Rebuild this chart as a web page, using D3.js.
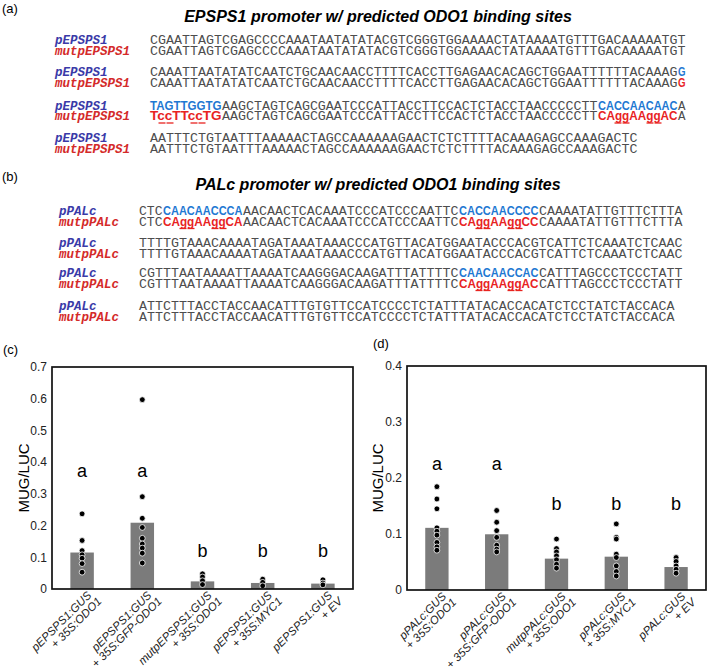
<!DOCTYPE html>
<html>
<head>
<meta charset="utf-8">
<script src="https://cdn.jsdelivr.net/npm/d3@7"></script>
<style>
body { margin: 0; background: #fff; }
svg { display: block; font-family: "Liberation Sans", Arial, sans-serif; }
</style>
</head>
<body>
<svg id="fig" width="709" height="670"></svg>
<script>
// ---- sequence data: [..] marks a predicted ODO1 site, lower case = mutated base
var namesA = ["pEPSPS1", "mutpEPSPS1"];
var seqA_wt = [
  "CGAATTAGTCGAGCCCCAAATAATATATACGTCGGGTGGAAAACTATAAAATGTTTGACAAAAATGT",
  "CAAATTAATATATCAATCTGCAACAACCTTTTCACCTTGAGAACACAGCTGGAATTTTTTACAAAG[G]",
  "[TAGTTGGTG]AAGCTAGTCAGCGAATCCCATTACCTTCCACTCTACCTAACCCCCTT[CACCAACAAC]A",
  "AATTTCTGTAATTTAAAAACTAGCCAAAAAAGAACTCTCTTTTACAAAGAGCCAAAGACTC"
];
var seqA_mut = [
  "CGAATTAGTCGAGCCCCAAATAATATATACGTCGGGTGGAAAACTATAAAATGTTTGACAAAAATGT",
  "CAAATTAATATATCAATCTGCAACAACCTTTTCACCTTGAGAACACAGCTGGAATTTTTTACAAAG[G]",
  "[TccTTccTG]AAGCTAGTCAGCGAATCCCATTACCTTCCACTCTACCTAACCCCCTT[CAggAAggAC]A",
  "AATTTCTGTAATTTAAAAACTAGCCAAAAAAGAACTCTCTTTTACAAAGAGCCAAAGACTC"
];
var namesB = ["pPALc", "mutpPALc"];
var seqB_wt = [
  "CTC[CAACAACCCA]AACAACTCACAAATCCCATCCCAATTC[CACCAACCCC]CAAAATATTGTTTCTTTA",
  "TTTTGTAAACAAAATAGATAAATAAACCCATGTTACATGGAATACCCACGTCATTCTCAAATCTCAAC",
  "CGTTTAATAAAATTAAAATCAAGGGACAAGATTTATTTTC[CAACAACCAC]CATTTAGCCCTCCCTATT",
  "ATTCTTTACCTACCAACATTTGTGTTCCATCCCCTCTATTTATACACCACATCTCCTATCTACCACA"
];
var seqB_mut = [
  "CTC[CAggAAggCA]AACAACTCACAAATCCCATCCCAATTC[CAggAAggCC]CAAAATATTGTTTCTTTA",
  "TTTTGTAAACAAAATAGATAAATAAACCCATGTTACATGGAATACCCACGTCATTCTCAAATCTCAAC",
  "CGTTTAATAAAATTAAAATCAAGGGACAAGATTTATTTTC[CAggAAggAC]CATTTAGCCCTCCCTATT",
  "ATTCTTTACCTACCAACATTTGTGTTCCATCCCCTCTATTTATACACCACATCTCCTATCTACCACA"
];

// ---- chart (c)
var labelsC1 = ["pEPSPS1:GUS", "pEPSPS1:GUS", "mutpEPSPS1:GUS", "pEPSPS1:GUS", "pEPSPS1:GUS"];
var labelsC2 = ["+ 35S:ODO1", "+ 35S:GFP-ODO1", "+ 35S:ODO1", "+ 35S:MYC1", "+ EV"];
var meansC = [0.115, 0.209, 0.024, 0.019, 0.017];
var pointsC = [
  [0.237, 0.153, 0.121, 0.108, 0.097, 0.080, 0.053],
  [0.597, 0.291, 0.223, 0.194, 0.160, 0.142, 0.129, 0.113, 0.082],
  [0.048, 0.038, 0.026, 0.014],
  [0.031, 0.021, 0.010],
  [0.029, 0.019, 0.013]
];
var lettersC = ["a", "a", "b", "b", "b"];
var letterPosC = [0.354, 0.354, 0.10, 0.10, 0.10];
var ticksC = [0, 0.1, 0.2, 0.3, 0.4, 0.5, 0.6, 0.7];

// ---- chart (d)
var labelsD1 = ["pPALc:GUS", "pPALc:GUS", "mutpPALc:GUS", "pPALc:GUS", "pPALc:GUS"];
var labelsD2 = ["+ 35S:ODO1", "+ 35S:GFP-ODO1", "+ 35S:ODO1", "+ 35S:MYC1", "+ EV"];
var meansD = [0.111, 0.0995, 0.056, 0.0595, 0.041];
var pointsD = [
  [0.1845, 0.1625, 0.145, 0.111, 0.105, 0.098, 0.085, 0.077, 0.071],
  [0.142, 0.121, 0.106, 0.094, 0.080, 0.073, 0.068],
  [0.091, 0.074, 0.068, 0.061, 0.054, 0.046, 0.039],
  [0.118, 0.094, 0.091, 0.064, 0.058, 0.043, 0.033, 0.025],
  [0.058, 0.051, 0.043, 0.037, 0.030]
];
var lettersD = ["a", "a", "b", "b", "b"];
var letterPosD = [0.214, 0.214, 0.143, 0.143, 0.143];
var ticksD = [0, 0.1, 0.2, 0.3, 0.4];

var svg = d3.select("#fig");
var CW = 8; // one base = 8px

function parseSeq(s) {
  var out = [], pos = 0, hl = false, buf = "";
  for (var i = 0; i < s.length; i++) {
    var c = s[i];
    if (c == "[" || c == "]") {
      if (buf.length) { out.push({ t: buf, start: pos, hl: hl }); pos += buf.length; buf = ""; }
      hl = (c == "[");
    } else buf += c;
  }
  if (buf.length) out.push({ t: buf, start: pos, hl: hl });
  return out;
}

function drawSeqRow(g, str, x0, y, hlColor) {
  parseSeq(str).forEach(function(sg) {
    var t = g.append("text")
      .attr("x", x0 + sg.start * CW)
      .attr("y", y)
      .attr("textLength", sg.t.length * CW - 0.5)
      .attr("lengthAdjust", "spacingAndGlyphs")
      .text(sg.t);
    if (sg.hl) {
      t.attr("fill", hlColor).style("font-family", "'Liberation Sans', Arial, sans-serif")
        .style("font-weight", "bold").style("font-size", "12px");
      // underline mutated (lower case) bases
      for (var k = 0; k < sg.t.length; k++) {
        if (sg.t[k] != sg.t[k].toUpperCase()) {
          g.append("line")
            .attr("x1", x0 + (sg.start + k) * CW + 0.5).attr("x2", x0 + (sg.start + k + 1) * CW - 0.5)
            .attr("y1", y + 3).attr("y2", y + 3)
            .attr("stroke", hlColor).attr("stroke-width", 1.3);
        }
      }
    } else {
      t.attr("fill", "#4d4d4d").style("font-family", "'Liberation Mono', 'Courier New', monospace")
        .style("font-size", "12.5px");
    }
  });
}

function drawSeqPanel(tag, title, tagY, titleY, names, wt, mut, rowY, labX, seqX) {
  svg.append("text").attr("x", 2).attr("y", tagY).style("font-size", "13px").text(tag);
  svg.append("text").attr("x", 378).attr("y", titleY).attr("text-anchor", "middle")
    .style("font-size", "16px").style("font-weight", "bold").style("font-style", "italic")
    .text(title);
  var g = svg.append("g");
  rowY.forEach(function(y, i) {
    [0, 1].forEach(function(j) {
      g.append("text").attr("x", labX).attr("y", y + j * 10.5)
        .attr("fill", j == 0 ? "#3a3aa8" : "#d42a2a")
        .style("font-family", "'Liberation Mono', 'Courier New', monospace")
        .style("font-weight", "bold").style("font-style", "italic").style("font-size", "12.5px")
        .text(names[j]);
      drawSeqRow(g, j == 0 ? wt[i] : mut[i], seqX, y + j * 10.5, j == 0 ? "#1e78d2" : "#e8231f");
    });
  });
}

drawSeqPanel("(a)", "EPSPS1 promoter w/ predicted ODO1 binding sites", 13, 22,
  namesA, seqA_wt, seqA_mut, [44, 76, 109.5, 142], 55, 150);
drawSeqPanel("(b)", "PALc promoter w/ predicted ODO1 binding sites", 181, 190,
  namesB, seqB_wt, seqB_mut, [215, 247, 277, 310], 59, 139);

function drawChart(tag, box, maxV, ticks, means, points, letters, letterPos, lab1, lab2) {
  var g = svg.append("g");
  var x = d3.scaleBand().domain(d3.range(means.length)).range([box.x0, box.x1]).paddingInner(0.61).paddingOuter(0.305);
  var y = d3.scaleLinear().domain([0, maxV]).range([box.y1, box.y0]);

  g.append("text").attr("x", box.tagX).attr("y", box.tagY).style("font-size", "13px").text(tag);

  var ax = g.append("g").attr("transform", "translate(" + box.x0 + ",0)")
    .call(d3.axisLeft(y).tickValues(ticks).tickSize(0).tickPadding(5)
      .tickFormat(function(d) { return d === 0 ? "0" : d3.format(".1f")(d); }));
  ax.select(".domain").remove();
  ax.selectAll("text").style("font-family", "'Liberation Sans', Arial, sans-serif")
    .style("font-size", "12px").attr("fill", "#222");

  g.append("text")
    .attr("transform", "translate(" + box.ylabX + "," + ((box.y0 + box.y1) / 2) + ") rotate(-90)")
    .attr("text-anchor", "middle").style("font-size", "15px").text("MUG/LUC");

  g.selectAll("rect.bar").data(means).enter().append("rect")
    .attr("class", "bar")
    .attr("x", function(d, i) { return x(i); })
    .attr("width", x.bandwidth())
    .attr("y", function(d) { return y(d); })
    .attr("height", function(d) { return y(0) - y(d); })
    .attr("fill", "#7b7b7b");

  points.forEach(function(arr, i) {
    g.selectAll(null).data(arr).enter().append("circle")
      .attr("cx", x(i) + x.bandwidth() / 2)
      .attr("cy", function(d) { return y(d); })
      .attr("r", 2.9)
      .attr("fill", "#000").attr("stroke", "#fff").attr("stroke-width", 0.8);
  });

  g.selectAll("text.let").data(letters).enter().append("text")
    .attr("class", "let")
    .attr("x", function(d, i) { return x(i) + x.bandwidth() / 2; })
    .attr("y", function(d, i) { return y(letterPos[i]); })
    .attr("text-anchor", "middle").style("font-size", "18px").text(function(d) { return d; });

  g.append("rect").attr("x", box.x0).attr("y", box.y0)
    .attr("width", box.x1 - box.x0).attr("height", box.y1 - box.y0)
    .attr("fill", "none").attr("stroke", "#111").attr("stroke-width", 1.7);

  lab1.forEach(function(l, i) {
    var lg = g.append("g")
      .attr("transform", "translate(" + (x(i) + x.bandwidth() / 2 + 10) + "," + (box.y1 + 7) + ") rotate(-45)")
      .style("font-size", "11.5px").style("font-style", "italic").attr("fill", "#222");
    lg.append("text").attr("x", 0).attr("y", 0).attr("text-anchor", "end").text(l);
    lg.append("text").attr("x", 3).attr("y", 11.5).attr("text-anchor", "end").text(lab2[i]);
  });
}

drawChart("(c)", { x0: 52, x1: 353, y0: 367, y1: 589, tagX: 3, tagY: 354, ylabX: 29 },
  0.7, ticksC, meansC, pointsC, lettersC, letterPosC, labelsC1, labelsC2);
drawChart("(d)", { x0: 407, x1: 706, y0: 366, y1: 590, tagX: 373, tagY: 348, ylabX: 383 },
  0.4, ticksD, meansD, pointsD, lettersD, letterPosD, labelsD1, labelsD2);
</script>
</body>
</html>
